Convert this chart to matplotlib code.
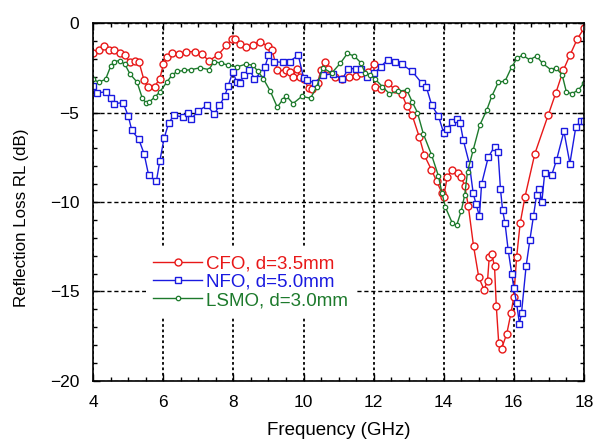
import matplotlib
matplotlib.use("Agg")
import matplotlib.pyplot as plt
from matplotlib.ticker import MultipleLocator

plt.rcParams["font.family"] = ["Liberation Sans", "DejaVu Sans"]

# CFO, d=3.5mm
f_cfo = [4.0, 4.15, 4.3, 4.45, 4.6, 4.75, 4.9, 5.05, 5.2, 5.3, 5.45, 5.55, 5.75,
         5.9, 6.0, 6.1, 6.25, 6.45, 6.65, 6.9, 7.1, 7.3, 7.55, 7.8, 7.95, 8.05,
         8.2, 8.35, 8.55, 8.75, 9.0, 9.1, 9.25, 9.4, 9.5, 9.6, 9.7, 9.8, 9.9,
         10.0, 10.15, 10.25, 10.4, 10.5, 10.6, 10.7, 10.9, 11.1, 11.3, 11.5,
         11.65, 11.85, 12.0, 12.05, 12.2, 12.4, 12.6, 12.8, 12.95, 13.1, 13.3,
         13.45, 13.65, 13.8, 13.95, 14.0, 14.1, 14.25, 14.4, 14.5, 14.6, 14.7,
         14.85, 15.0, 15.15, 15.25, 15.3, 15.37, 15.45, 15.5, 15.57, 15.65,
         15.8, 15.92, 16.0, 16.08, 16.18, 16.32, 16.6, 16.98, 17.2, 17.41,
         17.6, 17.81, 18.0]
rl_cfo = [-1.7, -1.5, -1.3, -1.5, -1.5, -1.7, -1.8, -2.2, -2.1, -2.15, -3.2,
          -3.55, -3.55, -3.1, -2.3, -1.9, -1.7, -1.75, -1.6, -1.6, -1.75, -2.1,
          -1.8, -1.25, -0.9, -0.9, -1.15, -1.35, -1.2, -1.05, -1.3, -1.5, -2.6,
          -2.8, -2.6, -2.75, -3.0, -2.55, -3.0, -3.1, -3.65, -3.7, -3.35, -2.6,
          -2.2, -2.55, -3.0, -3.15, -3.0, -2.95, -2.8, -2.75, -2.3, -3.6, -3.7,
          -3.35, -3.7, -3.95, -4.65, -5.15, -6.35, -7.4, -8.2, -8.85, -9.5,
          -9.7, -8.6, -8.2, -8.4, -8.6, -9.1, -10.2, -12.45, -14.2, -14.9,
          -14.4, -13.05, -12.9, -13.6, -15.8, -17.9, -18.2, -17.35, -16.2,
          -15.3, -13.1, -11.2, -9.7, -7.3, -5.15, -3.9, -2.65, -1.8, -0.9, -0.3]

# NFO, d=5.0mm
f_nfo = [4.0, 4.1, 4.35, 4.5, 4.6, 4.85, 5.0, 5.1, 5.3, 5.45, 5.58, 5.8, 5.9,
         6.02, 6.15, 6.3, 6.55, 6.7, 6.8, 7.0, 7.25, 7.45, 7.6, 7.75, 7.85,
         7.98, 8.1, 8.2, 8.3, 8.45, 8.6, 8.78, 8.9, 9.0, 9.15, 9.4, 9.6, 9.85,
         10.0, 10.1, 10.33, 10.55, 10.85, 11.1, 11.28, 11.5, 11.65, 11.8,
         12.02, 12.2, 12.4, 12.6, 12.8, 13.1, 13.37, 13.5, 13.66, 13.85, 14.0,
         14.1, 14.23, 14.37, 14.47, 14.56, 14.73, 14.84, 14.92, 15.02, 15.08,
         15.27, 15.45, 15.55, 15.62, 15.68, 15.75, 15.84, 15.94, 16.0, 16.08,
         16.16, 16.22, 16.35, 16.46, 16.56, 16.65, 16.72, 16.8, 16.88, 17.08,
         17.22, 17.43, 17.6, 17.77, 17.93, 18.0]
rl_nfo = [-3.5, -3.9, -3.85, -4.2, -4.5, -4.45, -5.2, -6.0, -6.5, -7.3, -8.5,
          -8.85, -7.7, -6.45, -5.6, -5.15, -5.25, -5.0, -5.35, -4.9, -4.6,
          -5.1, -4.6, -4.1, -3.5, -2.75, -3.3, -3.35, -2.9, -2.6, -3.1, -2.8,
          -2.45, -1.8, -2.15, -2.2, -2.15, -1.8, -3.05, -3.2, -3.35, -2.9,
          -2.85, -3.15, -2.55, -2.55, -2.55, -3.0, -2.8, -2.45, -2.05, -2.15,
          -2.3, -2.7, -3.35, -3.55, -4.6, -5.2, -6.15, -5.9, -5.55, -5.35,
          -5.6, -6.55, -7.85, -9.5, -10.1, -10.8, -9.0, -7.5, -6.9, -7.2, -9.3,
          -10.45, -11.2, -12.7, -14.0, -14.8, -15.65, -16.8, -16.2, -13.6,
          -12.1, -10.8, -9.6, -9.3, -10.0, -8.4, -8.5, -7.65, -6.05, -7.85,
          -5.8, -5.45, -5.5]

# LSMO, d=3.0mm
f_lsmo = [4.0, 4.15, 4.35, 4.5, 4.6, 4.75, 4.9, 5.05, 5.25, 5.4, 5.5, 5.6,
          5.75, 5.9, 6.1, 6.25, 6.4, 6.6, 6.8, 7.05, 7.3, 7.45, 7.65, 7.85,
          8.1, 8.35, 8.55, 8.7, 8.85, 9.05, 9.25, 9.4, 9.5, 9.7, 9.95, 10.2,
          10.38, 10.55, 10.8, 11.05, 11.25, 11.45, 11.65, 11.75, 11.9, 12.05,
          12.25, 12.45, 12.7, 12.95, 13.1, 13.25, 13.42, 13.65, 13.85, 13.95,
          14.05, 14.25, 14.37, 14.5, 14.6, 14.68, 14.84, 15.03, 15.23, 15.37,
          15.56, 15.75, 15.94, 16.1, 16.25, 16.45, 16.65, 16.82, 17.05, 17.2,
          17.38, 17.5, 17.65, 17.84, 18.0]
rl_lsmo = [-3.15, -3.3, -3.15, -2.4, -2.15, -2.1, -2.3, -2.85, -3.3, -4.2,
           -4.45, -4.4, -4.15, -3.85, -3.3, -2.9, -2.7, -2.65, -2.6, -2.5,
           -2.6, -2.15, -2.25, -2.35, -2.45, -2.3, -2.35, -2.7, -3.1, -3.8,
           -4.7, -4.3, -4.05, -4.5, -4.1, -4.2, -3.55, -2.5, -2.8, -2.25, -1.7,
           -1.85, -2.25, -2.8, -2.9, -3.15, -3.55, -3.95, -3.8, -3.75, -4.4,
           -5.0, -6.2, -7.35, -8.55, -9.5, -10.3, -11.2, -11.3, -10.5, -9.6,
           -8.3, -7.1, -5.7, -4.85, -4.1, -3.3, -3.25, -2.45, -1.95, -1.8,
           -2.05, -1.85, -2.25, -2.6, -2.5, -2.9, -3.85, -3.95, -3.75, -3.35]

colors = ["#e81818", "#1a1ae0", "#1d7a2c"]

fig = plt.figure(figsize=(5.94, 4.43), dpi=100)
ax = fig.add_axes([0.157, 0.14, 0.826, 0.808])

ax.plot(f_cfo, rl_cfo, color=colors[0], lw=1.0, marker="o", ms=5,
        mfc="white", mec=colors[0], mew=1.0, label="CFO, d=3.5mm")
ax.plot(f_nfo, rl_nfo, color=colors[1], lw=1.0, marker="s", ms=4.8,
        mfc="white", mec=colors[1], mew=1.0, label="NFO, d=5.0mm")
ax.plot(f_lsmo, rl_lsmo, color=colors[2], lw=1.0, marker="o", ms=3.2,
        mfc="white", mec=colors[2], mew=0.9, label="LSMO, d=3.0mm")

ax.set_xlim(4, 18)
ax.set_ylim(-20, 0)
ax.xaxis.set_major_locator(MultipleLocator(2))
ax.xaxis.set_minor_locator(MultipleLocator(0.5))
ax.yaxis.set_major_locator(MultipleLocator(5))
ax.yaxis.set_minor_locator(MultipleLocator(1))
ax.tick_params(which="both", direction="in", top=True, right=True,
               labelsize=12.5, width=1.0)
ax.tick_params(which="major", length=5)
ax.tick_params(which="minor", length=3)
ax.tick_params(axis="x", which="major", pad=10)
ax.tick_params(axis="y", which="major", pad=10)
for s in ax.spines.values():
    s.set_linewidth(1.2)

ax.xaxis.grid(True, color="black", linestyle=(0, (1.5, 1.5)), lw=1.3)
ax.yaxis.grid(True, color="black", linestyle=(0, (3, 2)), lw=1.0)
ax.set_axisbelow(True)

ax.set_xlabel("Frequency (GHz)", fontsize=13.5)
ax.xaxis.set_label_coords(0.5, -0.115)
ax.set_ylabel("Reflection Loss RL (dB)", fontsize=12.2)
ax.yaxis.set_label_coords(-0.13, 0.455)

leg = ax.legend(loc="upper left", bbox_to_anchor=(0.088, 0.397), frameon=True,
                fontsize=13.5, handlelength=2.6, numpoints=1,
                labelspacing=0.05, borderpad=0.4, handletextpad=0.2)
leg.get_frame().set_edgecolor("none")
leg.get_frame().set_facecolor("white")
leg.get_frame().set_alpha(1)
for t, c in zip(leg.get_texts(), colors):
    t.set_color(c)

fig.savefig("out.png", dpi=100)
